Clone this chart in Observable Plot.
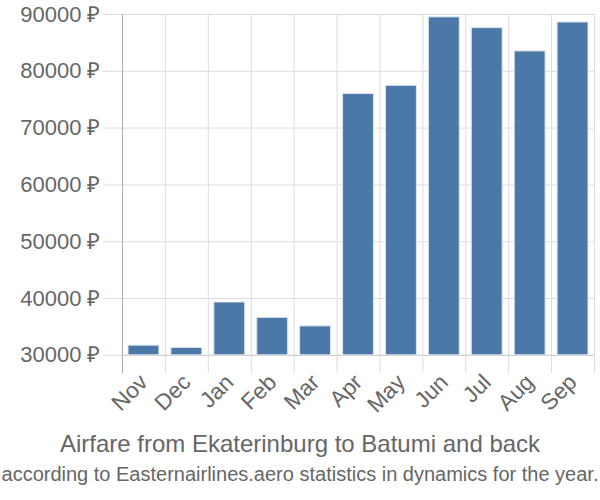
<!DOCTYPE html>
<html>
<head>
<meta charset="utf-8">
<script src="https://cdn.jsdelivr.net/npm/d3@7"></script>
<script src="https://cdn.jsdelivr.net/npm/@observablehq/plot@0.6"></script>
<style>
  html, body { margin: 0; padding: 0; background: #fff; }
  #chart { width: 600px; }
  #chart svg { display: block; }
  .title { font-family: "Liberation Sans", Arial, sans-serif; font-size: 24px; color: #666; text-align: center; line-height: 26px; margin-top: 11px; white-space: nowrap; }
  .subtitle { font-family: "Liberation Sans Narrow", "Liberation Sans", Arial, sans-serif; font-size: 20px; color: #666; text-align: center; line-height: 26px; margin-top: 4px; white-space: nowrap; }
</style>
</head>
<body>
<div id="chart"></div>
<script>
const months = ["Nov","Dec","Jan","Feb","Mar","Apr","May","Jun","Jul","Aug","Sep"];
const prices = [31700, 31300, 39300, 36600, 35100, 76000, 77450, 89500, 87600, 83500, 88600];
const yTicks = [30000, 40000, 50000, 60000, 70000, 80000, 90000];
const baseline = 30000;
const yMin = 26800;
const yMax = 90000;
const titleText = "Airfare from Ekaterinburg to Batumi and back";
const subtitleText = "according to Easternairlines.aero statistics in dynamics for the year.";

const data = months.map((m, i) => ({month: m, price: prices[i]}));

const W = 600, mL = 122, mR = 6;
const bw = (W - mL - mR) / months.length;

const plot = Plot.plot({
  width: W,
  height: 420,
  marginLeft: mL,
  marginRight: mR,
  marginTop: 14,
  marginBottom: 47,
  style: {fontFamily: "'Liberation Sans', Arial, sans-serif", background: "#fff"},
  x: {type: "band", domain: months, padding: 0, round: false, label: null},
  y: {domain: [yMin, yMax], label: null},
  marks: [
    Plot.gridY(yTicks, {stroke: "#ddd", strokeOpacity: 1}),
    Plot.ruleX(months, {x: d => d, dx: -bw / 2, stroke: "#ddd"}),
    Plot.ruleX([months[months.length - 1]], {x: d => d, dx: bw / 2, stroke: "#ddd"}),
    Plot.ruleX([months[0]], {x: d => d, dx: -bw / 2, stroke: "#aaa"}),
    Plot.ruleY([baseline], {stroke: "#ccc"}),
    Plot.barY(data, {x: "month", y1: baseline, y2: "price", fill: "#4c78a8", stroke: "#dfe6ef", strokeWidth: 1, insetLeft: 6, insetRight: 6}),
    Plot.axisY(yTicks, {tickSize: 19, tickPadding: 3, stroke: "#ddd", strokeOpacity: 1, fill: "#666", fontSize: 22, tickFormat: d => d + " ₽"}),
    Plot.axisX({tickSize: 0, tickPadding: 5, tickRotate: -45, fill: "#666", fontSize: 22.5, label: null})
  ]
});

document.getElementById("chart").appendChild(plot);
const t = document.createElement("div"); t.className = "title"; t.textContent = titleText;
const s = document.createElement("div"); s.className = "subtitle"; s.textContent = subtitleText;
document.getElementById("chart").appendChild(t);
document.getElementById("chart").appendChild(s);
</script>
</body>
</html>
